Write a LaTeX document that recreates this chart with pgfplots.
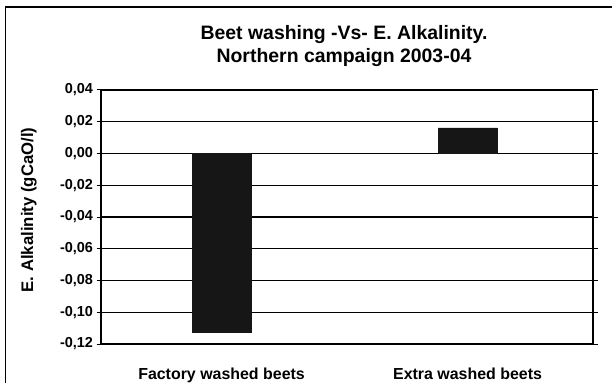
\documentclass[border=0pt]{standalone}
\usepackage{pgfplots}
\pgfplotsset{compat=1.18}
\usepackage{fontspec}
\setmainfont{Liberation Sans}
\definecolor{barfill}{RGB}{22,22,22}
\begin{document}
\begin{tikzpicture}[x=1bp,y=1bp]
\useasboundingbox (0,0) rectangle (612,383);
\draw[line width=1.4bp] (5.5,0) -- (5.5,376) -- (612,376);
\node[font=\bfseries\fontsize{19.5}{22}\selectfont, anchor=base] at (344,344) {Beet washing -Vs- E. Alkalinity.};
\node[font=\bfseries\fontsize{19.5}{22}\selectfont, anchor=base] at (344,321) {Northern campaign 2003-04};
\begin{axis}[
  at={(101bp,39bp)}, anchor=south west,
  scale only axis, width=492bp, height=254bp,
  xmin=-0.49, xmax=1.51,
  ymin=-0.12, ymax=0.04,
  ytick={-0.12,-0.10,...,0.04},
  xtick={0,1},
  xticklabels={Factory washed beets, Extra washed beets},
  major x tick style={draw=none},
  ytick style={black, line width=1bp},
  tick align=outside,
  major tick length=4.5bp,
  ymajorgrids,
  grid style={black, line width=1.1bp},
  axis line style={black, line width=1.3bp},
  /pgf/number format/fixed,
  /pgf/number format/fixed zerofill,
  /pgf/number format/precision=2,
  /pgf/number format/use comma,
  /pgf/number format/assume math mode=true,
  yticklabel style={font=\bfseries\fontsize{14.5}{16}\selectfont},
  xticklabel style={font=\bfseries\fontsize{16}{18}\selectfont, anchor=base, yshift=-31bp},
  ylabel={E. Alkalinity (gCaO/l)},
  every axis y label/.style={at={(axis description cs:-0.1382,0.528)}, rotate=90, anchor=base, font=\bfseries\fontsize{16.8}{19}\selectfont},
]
\addplot[ybar, bar width=59bp, fill=barfill, draw=barfill] coordinates {(0,-0.1123) (1,0.0161)};
\end{axis}
\end{tikzpicture}
\end{document}
